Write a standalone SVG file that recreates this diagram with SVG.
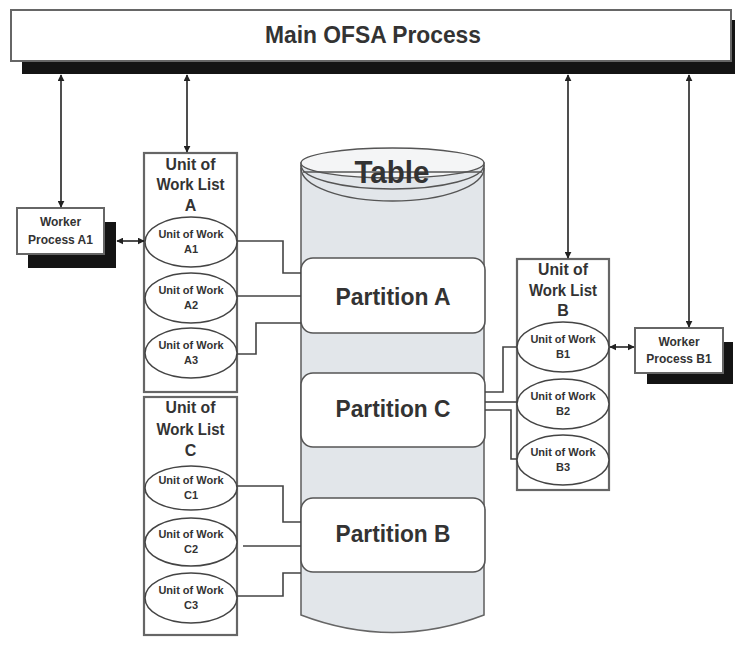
<svg xmlns="http://www.w3.org/2000/svg" width="735" height="645" viewBox="0 0 735 645">
<defs>
<marker id="ah" viewBox="0 0 10 10" refX="9" refY="5" markerWidth="7" markerHeight="7" markerUnits="userSpaceOnUse" orient="auto-start-reverse">
<path d="M0,0 L10,5 L0,10 Z" fill="#222"/>
</marker>
<style>
text{font-family:"Liberation Sans",Arial,sans-serif;font-weight:bold;fill:#333;text-anchor:middle}
.box{fill:#fff;stroke:#666;stroke-width:2}
.shadow{fill:#141414}
.list{fill:#fff;stroke:#666;stroke-width:2.2}
.uow{fill:#fff;stroke:#444;stroke-width:1.5}
.part{fill:#fff;stroke:#555;stroke-width:1.6}
.cyl{fill:#e2e6ea;stroke:#666;stroke-width:1.6}
.rim{fill:none;stroke:#555;stroke-width:1.4}
.conn{fill:none;stroke:#444;stroke-width:1.6}
.arr{fill:none;stroke:#222;stroke-width:1.6;marker-start:url(#ah);marker-end:url(#ah)}
.big{font-size:24px}
.lt{font-size:16px}
.ut{font-size:11px}
.wt{font-size:12px}
</style>
</defs>
<rect width="735" height="645" fill="#fff"/>

<g id="main">
<rect class="shadow" x="22" y="20" width="713" height="54"/>
<rect class="box" x="11" y="10" width="720" height="51" stroke="#888"/>
<text class="big" x="373" y="43" textLength="216" lengthAdjust="spacingAndGlyphs">Main OFSA Process</text>
</g>

<g id="table">
<path class="cyl" d="M301,163 V615 Q392.5,650 484,615 V163 Z"/>
<ellipse cx="392.5" cy="163" rx="91.5" ry="15" fill="#f4f5f6" stroke="#555" stroke-width="1.4"/>
<path class="rim" d="M301,165 A91.5,24 0 0,0 484,165"/>
<path class="rim" d="M301,168 A91.5,33 0 0,0 484,168"/>
<path class="rim" d="M303,172 H482" stroke-width="1"/>
<text x="392" y="183" font-size="32" textLength="75" lengthAdjust="spacingAndGlyphs">Table</text>
</g>

<g id="partitionA">
<rect class="part" x="301" y="258" width="184" height="75" rx="12"/>
<text class="big" x="393" y="305" textLength="115" lengthAdjust="spacingAndGlyphs">Partition A</text>
</g>
<g id="partitionC">
<rect class="part" x="301" y="373" width="184" height="74" rx="12"/>
<text class="big" x="393" y="417" textLength="115" lengthAdjust="spacingAndGlyphs">Partition C</text>
</g>
<g id="partitionB">
<rect class="part" x="301" y="498" width="184" height="74" rx="12"/>
<text class="big" x="393" y="542" textLength="115" lengthAdjust="spacingAndGlyphs">Partition B</text>
</g>

<g id="workerA1">
<rect class="shadow" x="28" y="222" width="88" height="46"/>
<rect class="box" x="17" y="208" width="87" height="46"/>
<text class="wt" x="60.5" y="226">Worker</text>
<text class="wt" x="60.5" y="244">Process A1</text>
</g>

<g id="workerB1">
<rect class="shadow" x="647" y="342" width="86" height="42"/>
<rect class="box" x="635" y="328" width="88" height="45"/>
<text class="wt" x="679" y="346">Worker</text>
<text class="wt" x="679" y="363">Process B1</text>
</g>

<g id="listA">
<rect class="list" x="144" y="153" width="93" height="239"/>
<text class="lt" x="190.5" y="170" textLength="50" lengthAdjust="spacingAndGlyphs">Unit of</text>
<text class="lt" x="190.5" y="190" textLength="68" lengthAdjust="spacingAndGlyphs">Work List</text>
<text class="lt" x="190.5" y="211">A</text>
</g>
<g id="uowA1">
<ellipse class="uow" cx="191" cy="242" rx="46" ry="25"/>
<text class="ut" x="191" y="238">Unit of Work</text>
<text class="ut" x="191" y="253">A1</text>
</g>
<g id="uowA2">
<ellipse class="uow" cx="191" cy="298" rx="46" ry="25"/>
<text class="ut" x="191" y="294">Unit of Work</text>
<text class="ut" x="191" y="309">A2</text>
</g>
<g id="uowA3">
<ellipse class="uow" cx="191" cy="353" rx="46" ry="25"/>
<text class="ut" x="191" y="349">Unit of Work</text>
<text class="ut" x="191" y="364">A3</text>
</g>

<g id="listC">
<rect class="list" x="144" y="397" width="93" height="238"/>
<text class="lt" x="190.5" y="413" textLength="50" lengthAdjust="spacingAndGlyphs">Unit of</text>
<text class="lt" x="190.5" y="435" textLength="68" lengthAdjust="spacingAndGlyphs">Work List</text>
<text class="lt" x="190.5" y="456">C</text>
</g>
<g id="uowC1">
<ellipse class="uow" cx="191" cy="488" rx="46" ry="22"/>
<text class="ut" x="191" y="484">Unit of Work</text>
<text class="ut" x="191" y="499">C1</text>
</g>
<g id="uowC2">
<ellipse class="uow" cx="191" cy="542" rx="46" ry="24"/>
<text class="ut" x="191" y="538">Unit of Work</text>
<text class="ut" x="191" y="553">C2</text>
</g>
<g id="uowC3">
<ellipse class="uow" cx="191" cy="598" rx="46" ry="25"/>
<text class="ut" x="191" y="594">Unit of Work</text>
<text class="ut" x="191" y="609">C3</text>
</g>

<g id="listB">
<rect class="list" x="517" y="259" width="92" height="231"/>
<text class="lt" x="563" y="275" textLength="50" lengthAdjust="spacingAndGlyphs">Unit of</text>
<text class="lt" x="563" y="296" textLength="68" lengthAdjust="spacingAndGlyphs">Work List</text>
<text class="lt" x="563" y="316">B</text>
</g>
<g id="uowB1">
<ellipse class="uow" cx="563" cy="347" rx="46" ry="25"/>
<text class="ut" x="563" y="343">Unit of Work</text>
<text class="ut" x="563" y="358">B1</text>
</g>
<g id="uowB2">
<ellipse class="uow" cx="563" cy="404" rx="46" ry="25"/>
<text class="ut" x="563" y="400">Unit of Work</text>
<text class="ut" x="563" y="415">B2</text>
</g>
<g id="uowB3">
<ellipse class="uow" cx="563" cy="460" rx="46" ry="25"/>
<text class="ut" x="563" y="456">Unit of Work</text>
<text class="ut" x="563" y="471">B3</text>
</g>

<g id="connectors">
<path class="conn" d="M237,241 H283 V273 H301"/>
<path class="conn" d="M237,296 H301"/>
<path class="conn" d="M237,354 H256 V323 H301"/>
<path class="conn" d="M237,486 H283 V522 H301"/>
<path class="conn" d="M243,546 H301"/>
<path class="conn" d="M237,596 H283 V573 H301"/>
<path class="conn" d="M485,392 H503 V347 H517"/>
<path class="conn" d="M485,402 H517"/>
<path class="conn" d="M485,410 H511 V459 H517"/>
<path class="arr" d="M61,75 V207"/>
<path class="arr" d="M187,75 V152"/>
<path class="arr" d="M568,75 V258"/>
<path class="arr" d="M689,75 V327"/>
<path class="arr" d="M117,241 H144"/>
<path class="arr" d="M610,347 H634"/>
</g>
</svg>
